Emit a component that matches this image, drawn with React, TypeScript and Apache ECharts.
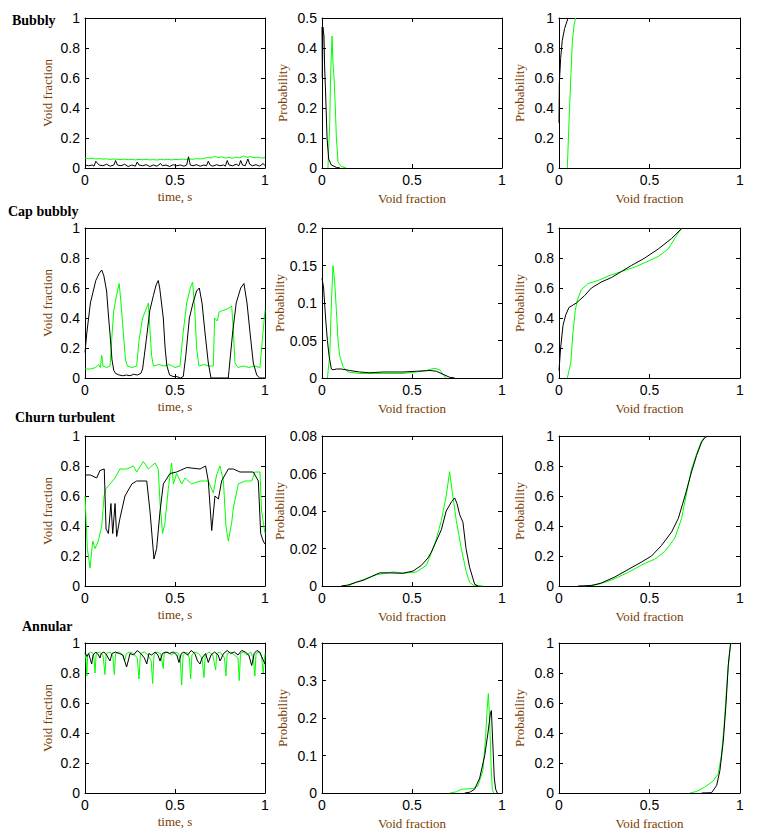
import React, { useEffect, useRef } from "react";
import * as echarts from "echarts";

// ---------- labels ----------
const rowTitles = ["Bubbly", "Cap bubbly", "Churn turbulent", "Annular"];
const xNames = ["time, s", "Void fraction", "Void fraction"];
const yNames = ["Void fraction", "Probability", "Probability"];
const pdfMax = [0.5, 0.2, 0.08, 0.4];
const pdfStep = [0.1, 0.05, 0.02, 0.1];

// ---------- time series (row 1: bubbly) ----------
const bubblyGreenVals = [0.066,0.062,0.065,0.060,0.063,0.059,0.061,0.057,0.060,0.058,0.056,0.059,0.055,0.058,0.054,0.057,0.055,0.058,0.054,0.056,0.053,0.057,0.055,0.058,0.054,0.057,0.056,0.059,0.057,0.061,0.058,0.062,0.060,0.064,0.070,0.066,0.078,0.070,0.074,0.066,0.071,0.065,0.073,0.068,0.080,0.071,0.076,0.068,0.073,0.066,0.070];
const bubblyGreenTime = bubblyGreenVals.map((v, i) => [i * 0.02, v]);
const bubblyBlackTime = [[0,0.02],[0.02,0.015],[0.04,0.02],[0.05,0.012],[0.06,0.045],[0.07,0.03],[0.08,0.02],[0.1,0.015],[0.12,0.025],[0.14,0.012],[0.16,0.02],[0.17,0.05],[0.18,0.02],[0.2,0.015],[0.22,0.025],[0.24,0.01],[0.26,0.02],[0.28,0.012],[0.29,0.04],[0.3,0.02],[0.32,0.015],[0.34,0.022],[0.36,0.01],[0.38,0.02],[0.4,0.012],[0.42,0.03],[0.43,0.015],[0.45,0.02],[0.47,0.01],[0.49,0.022],[0.51,0.015],[0.53,0.02],[0.55,0.012],[0.565,0.02],[0.575,0.075],[0.585,0.02],[0.6,0.015],[0.62,0.022],[0.64,0.012],[0.66,0.02],[0.675,0.015],[0.685,0.045],[0.695,0.02],[0.71,0.012],[0.73,0.022],[0.75,0.015],[0.77,0.02],[0.78,0.012],[0.79,0.05],[0.8,0.02],[0.82,0.015],[0.84,0.025],[0.855,0.015],[0.865,0.05],[0.875,0.02],[0.89,0.015],[0.905,0.06],[0.915,0.025],[0.93,0.015],[0.95,0.022],[0.97,0.012],[0.99,0.03],[1,0.015]];

// ---------- time series (row 2: cap bubbly) ----------
const capBlackTime = [[0,0.17],[0.01,0.3],[0.03,0.5],[0.06,0.65],[0.08,0.7],[0.093,0.72],[0.105,0.68],[0.12,0.58],[0.13,0.42],[0.14,0.28],[0.15,0.12],[0.16,0.05],[0.17,0.03],[0.19,0.02],[0.21,0.015],[0.23,0.02],[0.25,0.015],[0.27,0.025],[0.29,0.02],[0.31,0.03],[0.32,0.06],[0.34,0.25],[0.36,0.45],[0.38,0.55],[0.395,0.62],[0.407,0.65],[0.415,0.6],[0.425,0.5],[0.435,0.4],[0.445,0.2],[0.455,0.08],[0.47,0.02],[0.49,0.01],[0.51,0.01],[0.53,0.0],[0.546,0.01],[0.56,0.15],[0.58,0.4],[0.6,0.5],[0.62,0.58],[0.635,0.6],[0.65,0.5],[0.667,0.3],[0.685,0.1],[0.7,0.0],[0.75,0.0],[0.796,0.0],[0.8,0.05],[0.82,0.3],[0.84,0.5],[0.865,0.6],[0.883,0.63],[0.9,0.5],[0.917,0.3],[0.935,0.1],[0.954,0.02],[0.97,0.0],[1,0.0]];
const capGreenTime = [[0,0.06],[0.03,0.06],[0.06,0.07],[0.075,0.09],[0.085,0.07],[0.093,0.15],[0.1,0.08],[0.12,0.07],[0.139,0.08],[0.148,0.25],[0.16,0.45],[0.175,0.55],[0.19,0.63],[0.2,0.5],[0.213,0.3],[0.225,0.12],[0.235,0.08],[0.26,0.07],[0.287,0.08],[0.3,0.25],[0.32,0.4],[0.34,0.46],[0.352,0.5],[0.362,0.3],[0.37,0.15],[0.38,0.08],[0.41,0.09],[0.44,0.08],[0.47,0.09],[0.5,0.07],[0.528,0.08],[0.545,0.3],[0.565,0.5],[0.585,0.6],[0.598,0.64],[0.61,0.45],[0.62,0.2],[0.633,0.08],[0.66,0.09],[0.69,0.08],[0.713,0.08],[0.72,0.4],[0.735,0.38],[0.745,0.44],[0.765,0.45],[0.79,0.46],[0.815,0.48],[0.825,0.3],[0.833,0.1],[0.85,0.07],[0.88,0.08],[0.91,0.07],[0.94,0.08],[0.972,0.07],[0.985,0.25],[1,0.45]];

// ---------- time series (row 3: churn turbulent) ----------
const churnBlackTime = [[0,0.74],[0.03,0.74],[0.065,0.72],[0.083,0.77],[0.107,0.78],[0.117,0.38],[0.13,0.35],[0.144,0.55],[0.154,0.35],[0.167,0.55],[0.176,0.33],[0.194,0.45],[0.222,0.6],[0.26,0.68],[0.287,0.7],[0.343,0.7],[0.361,0.5],[0.383,0.18],[0.398,0.25],[0.417,0.5],[0.435,0.68],[0.472,0.75],[0.509,0.76],[0.565,0.79],[0.639,0.78],[0.67,0.8],[0.685,0.7],[0.704,0.37],[0.722,0.6],[0.741,0.58],[0.759,0.7],[0.796,0.78],[0.824,0.78],[0.861,0.76],[0.935,0.76],[0.963,0.7],[0.976,0.35],[0.99,0.3],[1,0.28]];
const churnGreenTime = [[0,0.6],[0.013,0.25],[0.028,0.12],[0.043,0.3],[0.056,0.25],[0.074,0.3],[0.093,0.4],[0.106,0.6],[0.117,0.65],[0.139,0.68],[0.167,0.72],[0.194,0.78],[0.231,0.78],[0.269,0.8],[0.287,0.76],[0.324,0.83],[0.352,0.78],[0.389,0.82],[0.407,0.78],[0.417,0.55],[0.431,0.35],[0.444,0.42],[0.463,0.65],[0.481,0.82],[0.491,0.68],[0.509,0.75],[0.537,0.68],[0.556,0.72],[0.593,0.68],[0.639,0.7],[0.685,0.7],[0.713,0.62],[0.731,0.74],[0.75,0.8],[0.769,0.7],[0.783,0.4],[0.796,0.3],[0.815,0.42],[0.824,0.52],[0.852,0.68],[0.889,0.7],[0.926,0.7],[0.944,0.76],[0.972,0.76],[0.981,0.5],[1,0.35]];

// ---------- time series (row 4: annular) ----------
const annularGreenTime = [[0,0.93],[0.005,0.9],[0.01,0.78],[0.015,0.92],[0.03,0.94],[0.045,0.93],[0.05,0.9],[0.056,0.8],[0.062,0.93],[0.08,0.94],[0.1,0.92],[0.111,0.79],[0.118,0.93],[0.14,0.94],[0.155,0.91],[0.163,0.79],[0.17,0.93],[0.19,0.94],[0.21,0.92],[0.22,0.88],[0.23,0.93],[0.25,0.94],[0.27,0.93],[0.29,0.9],[0.3,0.76],[0.308,0.93],[0.33,0.94],[0.35,0.92],[0.368,0.88],[0.376,0.73],[0.383,0.92],[0.4,0.94],[0.42,0.93],[0.435,0.83],[0.44,0.93],[0.46,0.94],[0.48,0.92],[0.5,0.94],[0.52,0.93],[0.53,0.88],[0.537,0.72],[0.545,0.92],[0.565,0.94],[0.58,0.9],[0.587,0.76],[0.594,0.92],[0.61,0.94],[0.63,0.93],[0.65,0.9],[0.661,0.77],[0.668,0.92],[0.69,0.94],[0.71,0.92],[0.726,0.82],[0.732,0.93],[0.75,0.94],[0.775,0.9],[0.783,0.78],[0.79,0.93],[0.81,0.94],[0.83,0.92],[0.85,0.9],[0.857,0.75],[0.864,0.93],[0.88,0.94],[0.9,0.92],[0.92,0.94],[0.935,0.9],[0.944,0.78],[0.95,0.93],[0.97,0.94],[0.98,0.92],[0.99,0.8],[1,0.93]];
const annularBlackTime = [[0,0.94],[0.01,0.91],[0.02,0.93],[0.03,0.89],[0.037,0.86],[0.045,0.92],[0.06,0.94],[0.075,0.92],[0.083,0.9],[0.09,0.93],[0.105,0.94],[0.12,0.92],[0.139,0.88],[0.15,0.93],[0.17,0.94],[0.19,0.93],[0.21,0.92],[0.231,0.84],[0.24,0.88],[0.25,0.93],[0.27,0.92],[0.29,0.95],[0.31,0.93],[0.33,0.9],[0.343,0.86],[0.355,0.93],[0.37,0.92],[0.39,0.94],[0.405,0.92],[0.417,0.88],[0.43,0.93],[0.45,0.94],[0.47,0.93],[0.49,0.94],[0.51,0.92],[0.522,0.87],[0.535,0.93],[0.55,0.94],[0.57,0.92],[0.59,0.95],[0.61,0.93],[0.625,0.88],[0.639,0.86],[0.65,0.9],[0.67,0.93],[0.685,0.87],[0.7,0.92],[0.72,0.94],[0.74,0.92],[0.75,0.88],[0.77,0.93],[0.79,0.95],[0.81,0.93],[0.83,0.94],[0.85,0.92],[0.87,0.95],[0.89,0.94],[0.91,0.92],[0.926,0.85],[0.94,0.93],[0.955,0.95],[0.97,0.94],[0.985,0.9],[1,0.86]];

// ---------- probability density ----------
const bubblyBlackPdf = [[0,0.47],[0.002,0.3],[0.005,0.47],[0.011,0.44],[0.015,0.33],[0.02,0.25],[0.028,0.1],[0.037,0.03],[0.052,0.01],[0.08,0.002],[0.1,0]];
const bubblyGreenPdf = [[0.033,0],[0.043,0.15],[0.048,0.31],[0.056,0.44],[0.061,0.35],[0.067,0.3],[0.074,0.2],[0.08,0.1],[0.089,0.02],[0.107,0.005],[0.135,0]];
const capBlackPdf = [[0,0.133],[0.009,0.12],[0.02,0.08],[0.03,0.05],[0.039,0.03],[0.052,0.012],[0.061,0.011],[0.08,0.012],[0.107,0.012],[0.154,0.01],[0.209,0.008],[0.265,0.007],[0.339,0.008],[0.45,0.008],[0.524,0.009],[0.6,0.01],[0.635,0.009],[0.672,0.005],[0.709,0.001],[0.737,0]];
const capGreenPdf = [[0.03,0],[0.043,0.03],[0.052,0.1],[0.061,0.15],[0.07,0.13],[0.08,0.09],[0.089,0.05],[0.098,0.03],[0.117,0.015],[0.144,0.008],[0.209,0.006],[0.3,0.006],[0.45,0.006],[0.524,0.008],[0.58,0.01],[0.626,0.013],[0.654,0.011],[0.672,0.005],[0.69,0]];
const churnBlackPdf = [[0.107,0],[0.144,0.0005],[0.19,0.002],[0.228,0.003],[0.274,0.005],[0.32,0.007],[0.376,0.007],[0.45,0.0068],[0.506,0.008],[0.552,0.011],[0.589,0.015],[0.607,0.018],[0.635,0.024],[0.663,0.03],[0.69,0.04],[0.72,0.045],[0.737,0.047],[0.75,0.044],[0.765,0.038],[0.783,0.034],[0.8,0.02],[0.82,0.01],[0.848,0.001],[0.867,0]];
const churnGreenPdf = [[0.144,0],[0.19,0.002],[0.246,0.004],[0.302,0.006],[0.394,0.0075],[0.45,0.0068],[0.524,0.0075],[0.58,0.011],[0.617,0.02],[0.635,0.025],[0.663,0.035],[0.69,0.048],[0.709,0.061],[0.724,0.05],[0.746,0.035],[0.774,0.02],[0.8,0.008],[0.82,0.002],[0.839,0.0005],[0.894,0]];
const annularBlackPdf = [[0.793,0],[0.82,0.002],[0.848,0.01],[0.876,0.04],[0.904,0.1],[0.922,0.16],[0.935,0.21],[0.941,0.22],[0.95,0.12],[0.957,0.04],[0.965,0.01],[0.974,0]];
const annularGreenPdf = [[0.709,0],[0.746,0.003],[0.774,0.01],[0.839,0.012],[0.867,0.02],[0.894,0.06],[0.909,0.15],[0.917,0.22],[0.924,0.265],[0.931,0.2],[0.939,0.08],[0.946,0.01],[0.954,0]];

// ---------- cumulative probability ----------
const bubblyBlackCdf = [[0,0.3],[0.002,0.57],[0.009,0.73],[0.018,0.85],[0.031,0.93],[0.05,1]];
const bubblyGreenCdf = [[0.046,0],[0.055,0.3],[0.065,0.6],[0.074,0.85],[0.083,0.95],[0.092,1]];
const capBlackCdf = [[0,0.05],[0.009,0.2],[0.022,0.35],[0.037,0.42],[0.055,0.47],[0.096,0.5],[0.142,0.55],[0.179,0.6],[0.234,0.64],[0.29,0.67],[0.345,0.71],[0.4,0.75],[0.474,0.8],[0.548,0.86],[0.622,0.93],[0.681,1]];
const capGreenCdf = [[0.046,0],[0.065,0.1],[0.077,0.3],[0.09,0.45],[0.101,0.52],[0.124,0.59],[0.161,0.63],[0.216,0.65],[0.271,0.68],[0.345,0.71],[0.42,0.74],[0.494,0.78],[0.548,0.81],[0.603,0.86],[0.65,0.95],[0.677,1]];
const churnBlackCdf = [[0.105,0],[0.179,0.003],[0.234,0.02],[0.308,0.06],[0.382,0.11],[0.456,0.16],[0.511,0.2],[0.566,0.27],[0.622,0.36],[0.659,0.45],[0.696,0.6],[0.732,0.76],[0.76,0.87],[0.788,0.96],[0.806,0.99],[0.825,1]];
const churnGreenCdf = [[0.142,0],[0.216,0.01],[0.29,0.04],[0.382,0.09],[0.456,0.14],[0.53,0.18],[0.585,0.23],[0.64,0.32],[0.677,0.45],[0.705,0.62],[0.732,0.78],[0.76,0.88],[0.788,0.97],[0.815,1]];
const annularBlackCdf = [[0.788,0],[0.843,0.002],[0.871,0.05],[0.889,0.15],[0.908,0.35],[0.923,0.6],[0.935,0.85],[0.948,1]];
const annularGreenCdf = [[0.723,0],[0.76,0.01],[0.806,0.04],[0.852,0.08],[0.88,0.13],[0.897,0.25],[0.912,0.45],[0.926,0.7],[0.939,0.9],[0.95,1]];

const panelData = [
  [[bubblyGreenTime, bubblyBlackTime], [bubblyGreenPdf, bubblyBlackPdf], [bubblyGreenCdf, bubblyBlackCdf]],
  [[capGreenTime, capBlackTime], [capGreenPdf, capBlackPdf], [capGreenCdf, capBlackCdf]],
  [[churnGreenTime, churnBlackTime], [churnGreenPdf, churnBlackPdf], [churnGreenCdf, churnBlackCdf]],
  [[annularGreenTime, annularBlackTime], [annularGreenPdf, annularBlackPdf], [annularGreenCdf, annularBlackCdf]],
];

// ---------- layout ----------
const colLeft = [85, 322, 559];
const colWidth = [180, 180, 181];
const rowTop = [18, 228, 436, 643];
const plotH = 150;
const titlePos = [[12, 13], [8, 204], [15, 410], [22, 619]];

const GREEN = "#00ff00";
const NAME_COLOR = "#7a3c00";
const fmt = (v: number) => String(Math.round(v * 1000) / 1000);

export default function App() {
  const ref = useRef<HTMLDivElement>(null);
  useEffect(() => {
    if (!ref.current) return;
    const chart = echarts.init(ref.current, null, { renderer: "svg" });
    const grids: any[] = [];
    const xAxes: any[] = [];
    const yAxes: any[] = [];
    const series: any[] = [];
    const axisLine = { show: true, onZero: false, lineStyle: { color: "#000", width: 1 } };
    const axisTick = { show: true, inside: true, length: 4, lineStyle: { color: "#000", width: 1 } };
    const labelStyle = { color: "#000", fontFamily: "Arial, 'Liberation Sans', sans-serif", fontSize: 14, formatter: fmt };
    const nameStyle = { color: NAME_COLOR, fontFamily: "'Times New Roman', 'Liberation Serif', serif", fontSize: 13 };
    let k = 0;
    for (let r = 0; r < 4; r++) {
      for (let c = 0; c < 3; c++) {
        grids.push({ left: colLeft[c], top: rowTop[r], width: colWidth[c], height: plotH, containLabel: false });
        const ymax = c === 1 ? pdfMax[r] : 1;
        const ystep = c === 1 ? pdfStep[r] : 0.2;
        xAxes.push({
          type: "value", gridIndex: k, position: "bottom", min: 0, max: 1, interval: 0.5,
          axisLine, axisTick, splitLine: { show: false },
          axisLabel: { ...labelStyle, margin: 5 },
          name: xNames[c], nameLocation: "middle", nameGap: c === 0 ? 22 : 24, nameTextStyle: nameStyle,
        });
        xAxes.push({
          type: "value", gridIndex: k, position: "top", min: 0, max: 1, interval: 0.5,
          axisLine, axisTick, splitLine: { show: false }, axisLabel: { show: false },
        });
        yAxes.push({
          type: "value", gridIndex: k, position: "left", min: 0, max: ymax, interval: ystep,
          axisLine, axisTick, splitLine: { show: false },
          axisLabel: { ...labelStyle, margin: 5 },
          name: yNames[c], nameLocation: "middle", nameGap: c === 0 ? 31 : 33, nameTextStyle: nameStyle,
        });
        yAxes.push({
          type: "value", gridIndex: k, position: "right", min: 0, max: ymax, interval: ystep,
          axisLine, axisTick, splitLine: { show: false }, axisLabel: { show: false },
        });
        const [g, b] = panelData[r][c];
        series.push({
          type: "line", xAxisIndex: 2 * k, yAxisIndex: 2 * k, data: g, showSymbol: false, silent: true,
          lineStyle: { color: GREEN, width: 1 }, itemStyle: { color: GREEN },
        });
        series.push({
          type: "line", xAxisIndex: 2 * k, yAxisIndex: 2 * k, data: b, showSymbol: false, silent: true,
          lineStyle: { color: "#000", width: 1 }, itemStyle: { color: "#000" },
        });
        k++;
      }
    }
    const graphic = rowTitles.map((t, i) => ({
      type: "text",
      left: titlePos[i][0],
      top: titlePos[i][1],
      style: {
        text: t,
        fill: "#000",
        font: "bold 14px 'Times New Roman', 'Liberation Serif', serif",
      },
    }));
    chart.setOption({
      animation: false,
      backgroundColor: "#fff",
      grid: grids,
      xAxis: xAxes,
      yAxis: yAxes,
      series,
      graphic,
    });
    return () => chart.dispose();
  }, []);
  return (
    <div
      ref={ref}
      style={{ position: "absolute", left: 0, top: 0, width: 757, height: 833 }}
    />
  );
}
